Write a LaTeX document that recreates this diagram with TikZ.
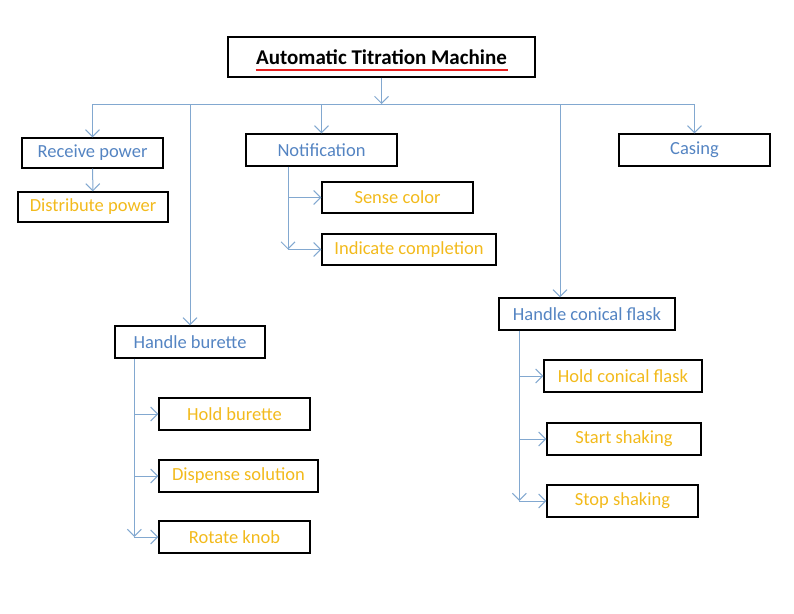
\documentclass[tikz,border=0pt]{standalone}
\usepackage{fontspec}
\setmainfont{Carlito}
\usetikzlibrary{arrows.meta,calc}
\definecolor{lineblue}{RGB}{130,168,208}
\definecolor{txtblue}{RGB}{84,132,194}
\definecolor{txtorange}{RGB}{242,186,28}
\definecolor{ulred}{RGB}{230,30,30}

\begin{document}
\begin{tikzpicture}[x=1pt,y=-1pt,
  box/.style={draw=black,line width=1.3pt,minimum height=32pt,inner sep=0pt,font=\fontsize{18.5}{22}\selectfont},
  top/.style={box,text=txtblue},
  sub/.style={box,text=txtorange},
  line/.style={draw=lineblue,line width=1pt},
  arr/.style={line,-{Straight Barb[length=7pt,width=14pt]}}]
\useasboundingbox (0,0) rectangle (794,613);
% title
\node[box,minimum width=307pt,minimum height=40pt,font=\fontsize{21}{24}\selectfont\bfseries] (title) at (381.5,57)
  {Automatic Titration Machine};
\draw[ulred,line width=1.4pt] ($(title.center)+(-126,13)$) -- ($(title.center)+(126,13)$);
% first level
\node[top,minimum width=141pt,minimum height=30pt] (recv) at (92.5,153) {Receive power};
\node[top,minimum width=151pt] (notif) at (321.5,150) {Notification};
\node[top,minimum width=151pt] (casing) at (694.5,150) {Casing};
\node[top,minimum width=150pt] (burette) at (190,342) {Handle burette};
\node[top,minimum width=176pt] (flask) at (587,314) {Handle conical flask};
% second level
\node[sub,minimum width=150pt,minimum height=30pt] (dist) at (93,207) {Distribute power};
\node[sub,minimum width=151pt,minimum height=31pt] (sense) at (397.5,197.5) {Sense color};
\node[sub,minimum width=174pt,minimum height=31pt] (indic) at (409,249.5) {Indicate completion};
\node[sub,minimum width=151pt] (hold) at (234.5,414) {Hold burette};
\node[sub,minimum width=159pt] (disp) at (238.5,476) {Dispense solution};
\node[sub,minimum width=151pt] (knob) at (234.5,537) {Rotate knob};
\node[sub,minimum width=158pt] (holdf) at (623,376) {Hold conical flask};
\node[sub,minimum width=154pt] (start) at (624,439) {Start shaking};
\node[sub,minimum width=151pt] (stop) at (622.5,501) {Stop shaking};

% bus
\coordinate (bus) at (title.south |- 0,104);
\coordinate (fl) at ($(flask.north)+(-27,0)$);
\draw[arr] (title.south) -- (bus);
\draw[line] (bus -| recv.north) -- (bus -| casing.north);
\draw[arr] (bus -| recv.north) -- (recv.north);
\draw[arr] (bus -| notif.north) -- (notif.north);
\draw[arr] (bus -| casing.north) -- (casing.north);
\draw[arr] (bus -| burette.north) -- (burette.north);
\draw[arr] (bus -| fl) -- (fl);
\draw[arr] (recv) -- (dist);

% notification
\coordinate (nt) at ($(notif.south)+(-33.5,0)$);
\draw[arr] (nt) -- (nt |- indic.west);
\draw[arr] (nt |- sense.west) -- (sense.west);
\draw[arr] (nt |- indic.west) -- (indic.west);

% burette
\coordinate (bt) at ($(burette.south west)+(20,0)$);
\draw[arr] (bt) -- (bt |- knob.west);
\foreach \n in {hold,disp,knob}
  \draw[arr] (bt |- \n.west) -- (\n.west);

% flask
\coordinate (ft) at ($(flask.south west)+(21,0)$);
\draw[arr] (ft) -- (ft |- stop.west);
\foreach \n in {holdf,start,stop}
  \draw[arr] (ft |- \n.west) -- (\n.west);
\end{tikzpicture}
\end{document}
